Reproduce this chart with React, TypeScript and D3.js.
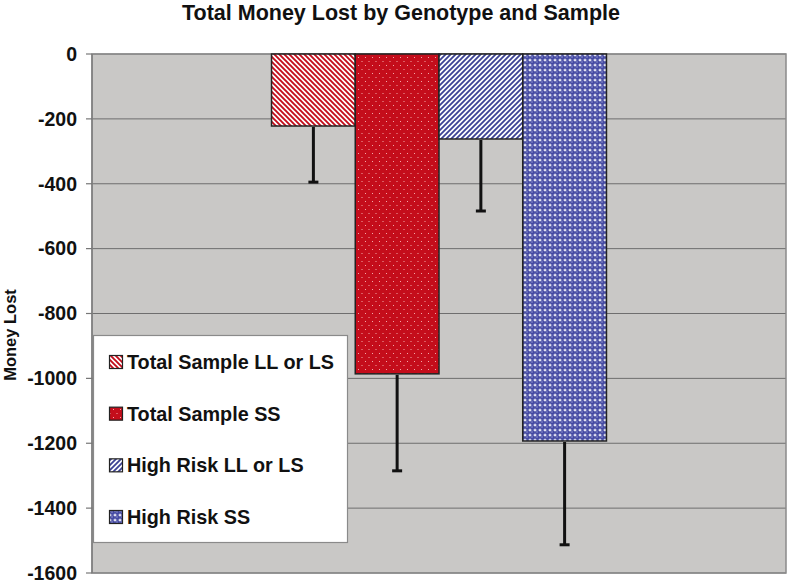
import React from "react";
import * as d3 from "d3";

const title = "Total Money Lost by Genotype and Sample";
const yAxisTitle = "Money Lost";
const groups = ["All"];
const seriesNames = [
  "Total Sample LL or LS",
  "Total Sample SS",
  "High Risk LL or LS",
  "High Risk SS",
];
const seriesValues = [-222, -986, -262, -1193];
const seriesErrors = [173, 299, 222, 320];
const yTicks = [0, -200, -400, -600, -800, -1000, -1200, -1400, -1600];
const patternIds = ["pRedStripe", "pRedDot", "pBlueStripe", "pBlueDot"];

const W = 788;
const H = 582;
const plot = { left: 92, right: 786, top: 54, bottom: 573 };
const FONT = "'Liberation Sans', Arial, sans-serif";
const RED = "#c40d1b";
const BLUE = "#3c4295";

export default function App() {
  const y = d3.scaleLinear().domain([-1600, 0]).range([plot.bottom, plot.top]);
  const xOuter = d3
    .scaleBand<string>()
    .domain(groups)
    .range([plot.left, plot.right])
    .paddingInner(0)
    .paddingOuter(0.536);
  const xInner = d3
    .scaleBand<string>()
    .domain(seriesNames)
    .range([0, xOuter.bandwidth()])
    .padding(0);

  const g0 = xOuter(groups[0]) as number;
  const legendRows = d3
    .scalePoint<string>()
    .domain(seriesNames)
    .range([362, 517]);

  return (
    <svg
      width={W}
      height={H}
      style={{ position: "absolute", left: 0, top: 0, background: "#fff" }}
      fontFamily={FONT}
    >
      <defs>
        <pattern id="pRedStripe" width={5} height={5} patternUnits="userSpaceOnUse">
          <rect width={5} height={5} fill="#fff" />
          <path d="M-1,4 l2,2 M0,0 l5,5 M4,-1 l2,2" stroke={RED} strokeWidth={1.9} />
        </pattern>
        <pattern id="pRedDot" width={7} height={8} patternUnits="userSpaceOnUse">
          <rect width={7} height={8} fill={RED} />
          <rect x={1} y={1} width={1} height={1} fill="#f2a8a8" />
          <rect x={4.5} y={5} width={1} height={1} fill="#f2a8a8" />
        </pattern>
        <pattern id="pBlueStripe" width={5} height={5} patternUnits="userSpaceOnUse">
          <rect width={5} height={5} fill="#fff" />
          <path d="M-1,1 l2,-2 M0,5 l5,-5 M4,6 l2,-2" stroke={BLUE} strokeWidth={1.8} />
        </pattern>
        <pattern id="pBlueDot" width={5} height={5} patternUnits="userSpaceOnUse">
          <rect width={5} height={5} fill="#fff" />
          <circle cx={2.5} cy={2.5} r={2.5} fill="#454aa3" />
          <circle cx={2} cy={2} r={0.7} fill="#a4a8da" />
        </pattern>
      </defs>

      {/* title */}
      <text
        x={401}
        y={20}
        textAnchor="middle"
        fontSize={21.5}
        fontWeight="bold"
        fill="#111"
      >
        {title}
      </text>

      {/* plot background */}
      <rect
        x={plot.left}
        y={plot.top}
        width={plot.right - plot.left}
        height={plot.bottom - plot.top}
        fill="#c9c8c6"
      />

      {/* gridlines */}
      {yTicks.map((t) => (
        <line
          key={"g" + t}
          x1={plot.left}
          x2={plot.right}
          y1={y(t)}
          y2={y(t)}
          stroke="#6e6e6e"
          strokeWidth={1}
        />
      ))}

      {/* plot border */}
      <rect
        x={plot.left}
        y={plot.top}
        width={plot.right - plot.left}
        height={plot.bottom - plot.top}
        fill="none"
        stroke="#8a8a8a"
        strokeWidth={1.5}
      />

      {/* y axis */}
      <line x1={plot.left} x2={plot.left} y1={plot.top} y2={plot.bottom} stroke="#777" strokeWidth={1.2} />
      {yTicks.map((t) => (
        <g key={"t" + t}>
          <line x1={plot.left - 6} x2={plot.left} y1={y(t)} y2={y(t)} stroke="#777" strokeWidth={1.2} />
          <text
            x={77}
            y={y(t)}
            dy="0.35em"
            textAnchor="end"
            fontSize={19.5}
            fontWeight="bold"
            fill="#111"
          >
            {t}
          </text>
        </g>
      ))}
      <text
        transform={`translate(16, 335) rotate(-90)`}
        textAnchor="middle"
        fontSize={16.5}
        fontWeight="bold"
        fill="#111"
      >
        {yAxisTitle}
      </text>

      {/* bars */}
      {seriesNames.map((s, i) => {
        const x0 = g0 + (xInner(s) as number);
        const v = seriesValues[i];
        return (
          <rect
            key={"b" + s}
            x={x0}
            y={y(0)}
            width={xInner.bandwidth()}
            height={y(v) - y(0)}
            fill={`url(#${patternIds[i]})`}
            stroke="#222"
            strokeWidth={1.5}
          />
        );
      })}

      {/* error bars */}
      {seriesNames.map((s, i) => {
        const cx = g0 + (xInner(s) as number) + xInner.bandwidth() / 2;
        const v = seriesValues[i];
        const e = v - seriesErrors[i];
        return (
          <g key={"e" + s} stroke="#111" strokeWidth={3}>
            <line x1={cx} x2={cx} y1={y(v) + 1} y2={y(e)} />
            <line x1={cx - 5} x2={cx + 5} y1={y(e)} y2={y(e)} />
          </g>
        );
      })}

      {/* legend */}
      <rect x={93.5} y={335.5} width={254} height={207} fill="#fff" stroke="#8a8a8a" strokeWidth={1.2} />
      {seriesNames.map((s, i) => {
        const cy = legendRows(s) as number;
        return (
          <g key={"l" + s}>
            <rect
              x={109.5}
              y={cy - 6.5}
              width={13}
              height={13}
              fill={`url(#${patternIds[i]})`}
              stroke="#222"
              strokeWidth={1.2}
            />
            <text x={127} y={cy} dy="0.36em" fontSize={19.8} fontWeight="bold" fill="#111">
              {s}
            </text>
          </g>
        );
      })}
    </svg>
  );
}
